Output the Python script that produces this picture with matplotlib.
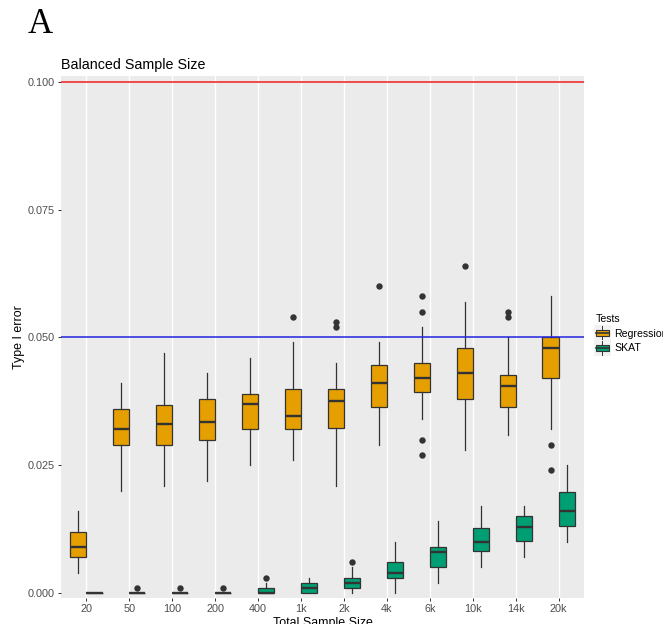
import numpy as np
import matplotlib
matplotlib.use("Agg")
import matplotlib.pyplot as plt
from matplotlib.patches import Rectangle, Patch
from matplotlib.lines import Line2D
from matplotlib.legend_handler import HandlerBase

plt.rcParams["font.family"] = ["Liberation Sans", "DejaVu Sans"]

sizes = ["20", "50", "100", "200", "400", "1k", "2k", "4k", "6k", "10k", "14k", "20k"]

# per-size box summaries of the type I error (low whisker, q1, median, q3, high whisker)
reg_lo = [0.004, 0.020, 0.021, 0.022, 0.025, 0.026, 0.021, 0.029, 0.034, 0.028, 0.031, 0.032]
reg_q1 = [0.007, 0.029, 0.029, 0.030, 0.032, 0.032, 0.0323, 0.0363, 0.0393, 0.038, 0.0363, 0.042]
reg_med = [0.009, 0.032, 0.033, 0.0335, 0.037, 0.0346, 0.0375, 0.041, 0.042, 0.043, 0.0405, 0.048]
reg_q3 = [0.012, 0.036, 0.0367, 0.038, 0.039, 0.040, 0.040, 0.0445, 0.045, 0.048, 0.0427, 0.050]
reg_hi = [0.016, 0.041, 0.047, 0.043, 0.046, 0.049, 0.045, 0.049, 0.052, 0.057, 0.050, 0.058]
reg_out = [[], [], [], [], [], [0.054], [0.052, 0.053], [0.060],
           [0.027, 0.030, 0.055, 0.058], [0.064], [0.054, 0.055], [0.024, 0.029]]

skat_lo = [0.0, 0.0, 0.0, 0.0, 0.0, 0.0, 0.0, 0.0, 0.002, 0.005, 0.007, 0.010]
skat_q1 = [0.0, 0.0, 0.0, 0.0, 0.0, 0.0, 0.001, 0.003, 0.005, 0.0082, 0.0102, 0.0132]
skat_med = [0.0, 0.0, 0.0, 0.0, 0.0, 0.001, 0.002, 0.004, 0.008, 0.010, 0.013, 0.016]
skat_q3 = [0.0, 0.0, 0.0, 0.0, 0.001, 0.002, 0.003, 0.006, 0.009, 0.0128, 0.015, 0.0198]
skat_hi = [0.0, 0.0, 0.0, 0.0, 0.002, 0.003, 0.005, 0.010, 0.014, 0.017, 0.017, 0.025]
skat_out = [[], [0.001], [0.001], [0.001], [0.003], [], [0.006], [], [], [], [], []]

tests = ["Regression", "SKAT"]
colors = {"Regression": "#E69F00", "SKAT": "#009E73"}
alpha_nominal = 0.05
alpha_upper = 0.10


def make_stats(lo, q1, med, q3, hi, out):
    return [dict(whislo=a, q1=b, med=c, q3=d, whishi=e, fliers=f)
            for a, b, c, d, e, f in zip(lo, q1, med, q3, hi, out)]


stats = {
    "Regression": make_stats(reg_lo, reg_q1, reg_med, reg_q3, reg_hi, reg_out),
    "SKAT": make_stats(skat_lo, skat_q1, skat_med, skat_q3, skat_hi, skat_out),
}


class BoxKey(HandlerBase):
    """Legend key drawn as a small boxplot glyph."""
    def create_artists(self, legend, orig_handle, xdescent, ydescent, width,
                       height, fontsize, trans):
        x0, y0 = -xdescent, -ydescent
        bg = Rectangle((x0 - 1.5, y0 - 2.5), width + 3, height + 5,
                       facecolor="#F2F2F2", edgecolor="none", transform=trans)
        whisk = Line2D([x0 + width / 2] * 2, [y0 - 2, y0 + height + 2],
                       color="#333333", lw=0.7, transform=trans)
        box = Rectangle((x0, y0 + 1), width, height - 2,
                        facecolor=orig_handle.get_facecolor(),
                        edgecolor="#333333", lw=0.8, transform=trans)
        med = Line2D([x0, x0 + width], [y0 + height / 2] * 2,
                     color="#333333", lw=1.2, transform=trans)
        return [bg, whisk, box, med]


fig = plt.figure(figsize=(6.63, 6.24), dpi=100)
ax = fig.add_axes([0.0916, 0.0421, 0.7897, 0.8361])
ax.set_facecolor("#EBEBEB")
for s in ax.spines.values():
    s.set_visible(False)

x = np.arange(len(sizes))
for xi in x:
    ax.axvline(xi, color="white", lw=1.0, zorder=0)

dodge = 0.1875
for j, t in enumerate(tests):
    pos = x + (j - 0.5) * 2 * dodge
    ax.bxp(stats[t], positions=pos, widths=0.375, patch_artist=True,
           showcaps=False, manage_ticks=False,
           boxprops=dict(facecolor=colors[t], edgecolor="#333333", linewidth=0.9),
           medianprops=dict(color="#333333", linewidth=1.7),
           whiskerprops=dict(color="#333333", linewidth=0.9),
           flierprops=dict(marker="o", markerfacecolor="#333333",
                           markeredgecolor="none", markersize=4.6),
           zorder=3)

ax.axhline(alpha_upper, color="#F04A4A", lw=1.4, zorder=4)
ax.axhline(alpha_nominal, color="#2424E0", lw=1.1, zorder=4)

ax.set_xlim(-0.6, len(sizes) - 0.4)
ax.set_ylim(-0.00092, 0.10112)
ax.set_xticks(x)
ax.set_xticklabels(sizes)
ax.set_yticks([0.0, 0.025, 0.05, 0.075, 0.1])
ax.set_yticklabels(["0.000", "0.025", "0.050", "0.075", "0.100"])
ax.tick_params(axis="both", length=2.5, width=0.7, color="#333333",
               labelcolor="#4D4D4D", labelsize=7.8, pad=2)

ax.set_xlabel("Total Sample Size", fontsize=8.9, labelpad=2)
ax.set_ylabel("Type I error", fontsize=8.9, labelpad=1.5)
ax.set_title("Balanced Sample Size", loc="left", fontsize=10.3, pad=5)

fig.text(0.042, 0.961, "A", family=["Liberation Serif", "DejaVu Serif"],
         fontsize=25, va="center", ha="left")

handles = [Patch(facecolor=colors[t], label=t) for t in tests]
leg = fig.legend(handles=handles, title="Tests", loc="upper left",
                 bbox_to_anchor=(0.899, 0.497), frameon=False,
                 fontsize=7.6, title_fontsize=7.6, handlelength=1.2,
                 handleheight=0.9, handletextpad=0.5, labelspacing=0.45,
                 borderpad=0.0, borderaxespad=0.0,
                 handler_map={Patch: BoxKey()})
leg._legend_box.align = "left"

fig.savefig("out.png", dpi=100)
